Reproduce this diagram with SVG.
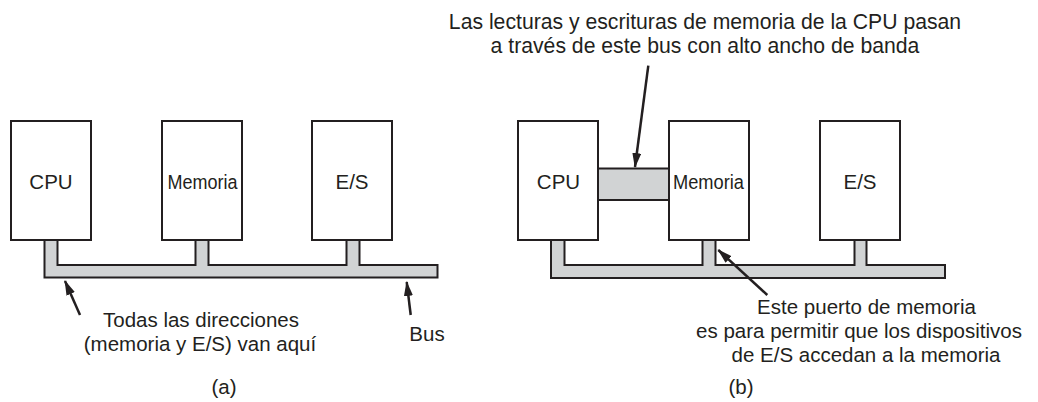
<svg xmlns="http://www.w3.org/2000/svg" width="1038" height="402" viewBox="0 0 1038 402">
<style>
.box{fill:#fff;stroke:#231f20;stroke-width:2}
.bus{fill:#d1d3d4;stroke:#231f20;stroke-width:2;stroke-linejoin:miter}
.t{font-family:"Liberation Sans",Arial,sans-serif;font-size:20.5px;fill:#231f20;text-anchor:middle}
.big{font-size:21.2px}
.arr{stroke:#231f20;stroke-width:2.5;fill:none;marker-end:url(#ah)}
</style>
<defs>
<marker id="ah" markerUnits="userSpaceOnUse" markerWidth="15" markerHeight="10" refX="14" refY="4.5" orient="auto">
<path d="M0,0 L15,4.5 L0,9 Z" fill="#231f20"/>
</marker>
</defs>
<rect width="1038" height="402" fill="#fff"/>
<g id="bus-a">
<path class="bus" d="M44.5,240 V277.5 H437.5 V265 H359.5 V240 H346.5 V265 H208.5 V240 H195.5 V265 H57.5 V240 Z"/>
</g>
<g id="cpu-a"><rect class="box" x="11" y="121" width="80" height="119"/><text class="t" x="51" y="188.5">CPU</text></g>
<g id="mem-a"><rect class="box" x="162" y="121" width="80" height="119"/><text class="t" x="202.5" y="188.5" textLength="70" lengthAdjust="spacingAndGlyphs">Memoria</text></g>
<g id="es-a"><rect class="box" x="312" y="121" width="80" height="119"/><text class="t" x="352" y="188.5">E/S</text></g>
<g id="bus-b">
<path class="bus" d="M551,240 V278 H945 V265 H866.5 V240 H854.5 V265 H715.5 V240 H702.5 V265 H564.5 V240 Z"/>
</g>
<g id="bridge-b"><rect x="598" y="168.5" width="71" height="31.5" fill="#d1d3d4"/><path d="M598,168.5 H669 M598,200 H669" stroke="#231f20" stroke-width="2"/></g>
<g id="cpu-b"><rect class="box" x="518" y="121" width="80" height="119"/><text class="t" x="558.5" y="188.5">CPU</text></g>
<g id="mem-b"><rect class="box" x="669" y="121" width="80" height="119"/><text class="t" x="708.5" y="188.5" textLength="71" lengthAdjust="spacingAndGlyphs">Memoria</text></g>
<g id="es-b"><rect class="box" x="820" y="121" width="80" height="119"/><text class="t" x="860" y="188.5">E/S</text></g>
<g id="connectors">
<line class="arr" x1="80" y1="315" x2="65" y2="281"/>
<line class="arr" x1="410.7" y1="315" x2="406.7" y2="282"/>
<line class="arr" x1="648.3" y1="65.7" x2="635" y2="167"/>
<line class="arr" x1="767.3" y1="295" x2="718.3" y2="250"/>
</g>
<g id="labels">
<text class="t" x="201" y="327">Todas las direcciones</text>
<text class="t" x="200" y="350.5">(memoria y E/S) van aquí</text>
<text class="t" x="427" y="341">Bus</text>
<text class="t big" x="705" y="28.5">Las lecturas y escrituras de memoria de la CPU pasan</text>
<text class="t big" x="705" y="52.5">a través de este bus con alto ancho de banda</text>
<text class="t" x="866.5" y="313.5">Este puerto de memoria</text>
<text class="t" x="859" y="337.5">es para permitir que los dispositivos</text>
<text class="t" x="866" y="361.5">de E/S accedan a la memoria</text>
<text class="t" x="224" y="394">(a)</text>
<text class="t" x="741" y="394">(b)</text>
</g>
</svg>
